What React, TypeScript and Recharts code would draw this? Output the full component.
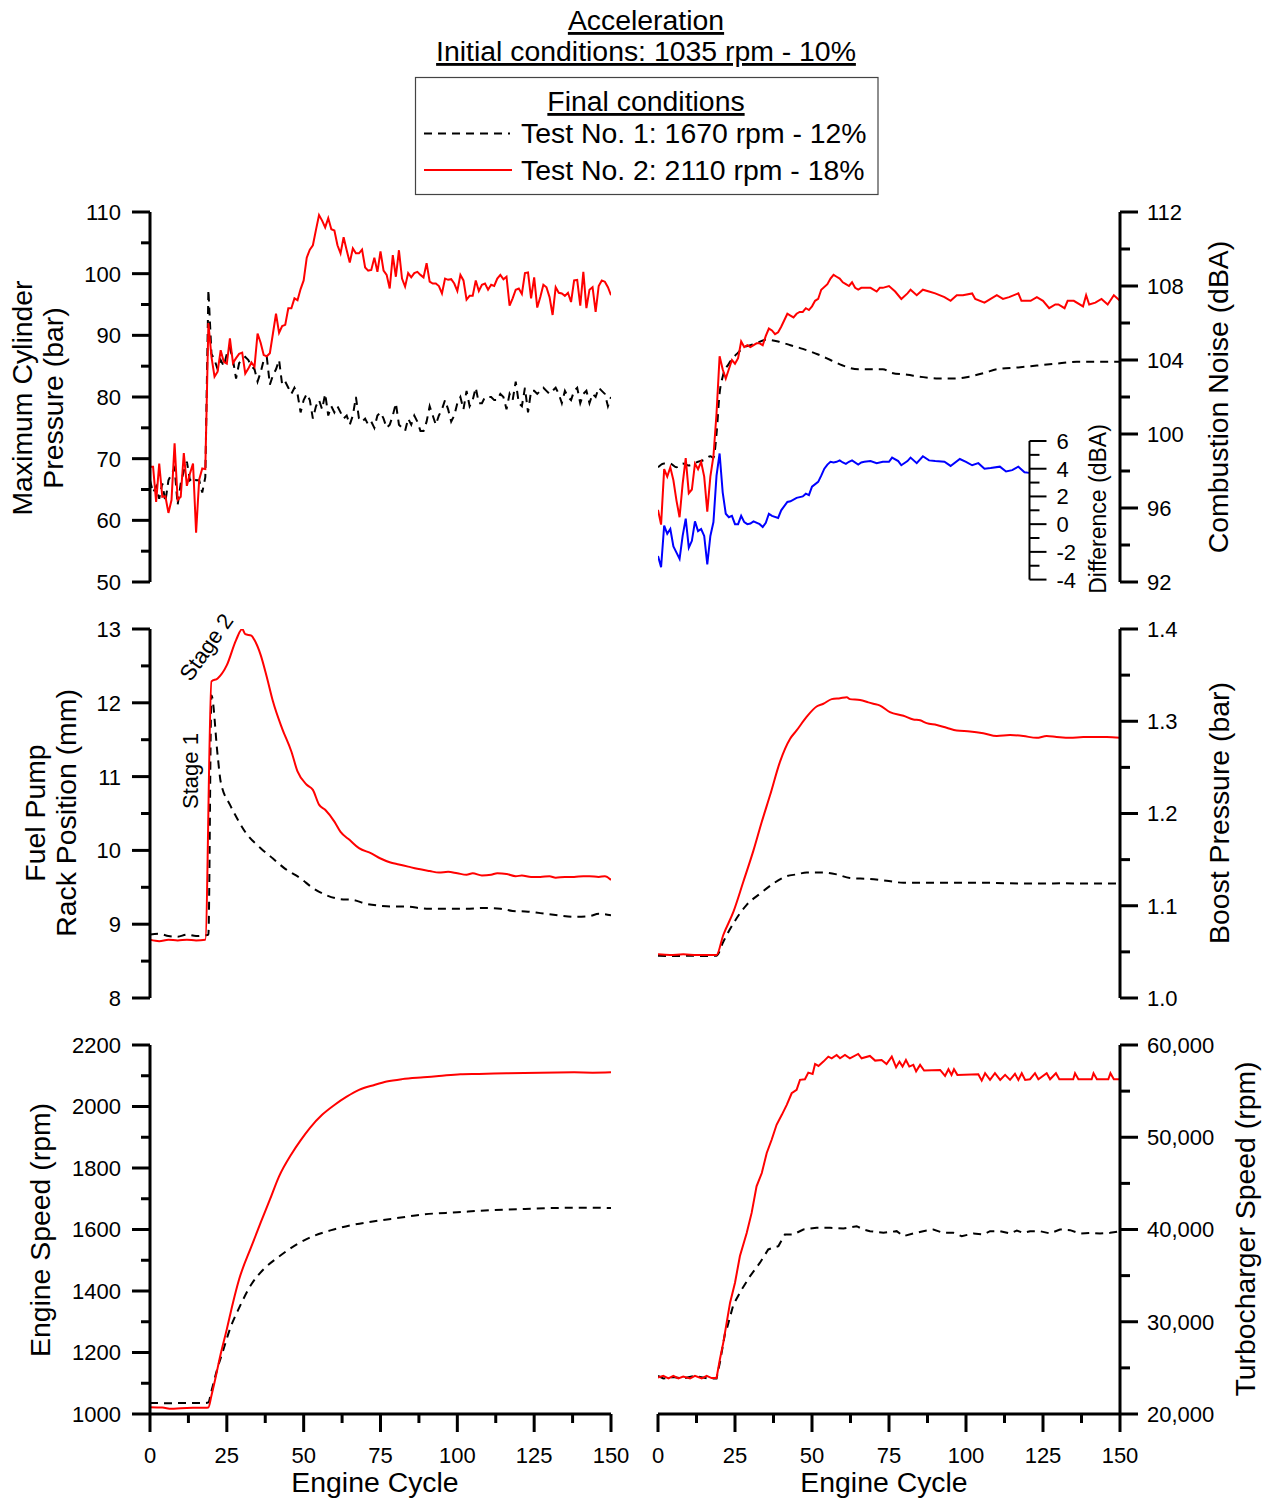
import React from 'react';
import { LineChart, Line, XAxis, YAxis } from 'recharts';

const FONT = '"Liberation Sans", Arial, Helvetica, sans-serif';
const RED = '#ff0000';
const BLUE = '#0000ff';
const DASH = '8 6';

// tick values (labels are drawn only on the major ones)
const CYCLE_TICKS = [0, 12.5, 25, 37.5, 50, 62.5, 75, 87.5, 100, 112.5, 125, 137.5, 150];
const PMAX_TICKS = [50, 55, 60, 65, 70, 75, 80, 85, 90, 95, 100, 105, 110];
const RACK_TICKS = [8, 8.5, 9, 9.5, 10, 10.5, 11, 11.5, 12, 12.5, 13];
const SPEED_TICKS = [1000, 1100, 1200, 1300, 1400, 1500, 1600, 1700, 1800, 1900, 2000, 2100, 2200];
const NOISE_TICKS = [92, 94, 96, 98, 100, 102, 104, 106, 108, 110, 112];
const DIFF_TICKS = [-4, -3, -2, -1, 0, 1, 2, 3, 4, 5, 6];
const BOOST_TICKS = [1.0, 1.05, 1.1, 1.15, 1.2, 1.25, 1.3, 1.35, 1.4];
const TURBO_TICKS = [20000, 25000, 30000, 35000, 40000, 45000, 50000, 55000, 60000];

// maximum cylinder pressure (bar), one value per engine cycle 0..150
const PMAX_T1 = [
  66.5, 64.5, 65.5, 63.5, 66.0, 63.0, 66.5, 67.5, 68.5, 62.5,
  66.0, 68.0, 69.5, 66.5, 67.0, 66.5, 66.5, 64.5, 67.0, 97.4,
  87.0, 86.0, 84.5, 86.0, 85.0, 87.0, 88.0, 86.0, 83.0, 85.5,
  86.0, 86.5, 86.0, 85.0, 84.5, 82.5, 84.0, 86.0, 86.5, 82.0,
  83.5, 84.5, 86.0, 82.0, 82.5, 81.5, 80.5, 81.5, 80.5, 77.5,
  79.5, 80.5, 79.5, 76.5, 78.5, 79.5, 78.0, 80.5, 77.0, 78.5,
  77.5, 78.5, 77.5, 76.5, 77.0, 75.5, 77.0, 80.0, 76.5, 76.0,
  76.5, 75.5, 76.0, 75.0, 77.0, 77.5, 76.5, 75.0, 75.5, 77.0,
  79.0, 75.5, 75.0, 74.5, 76.5, 75.5, 77.0, 76.0, 74.5, 74.5,
  76.0, 78.5, 77.0, 75.5, 77.0, 78.0, 79.5, 78.0, 76.0, 77.0,
  79.0, 80.0, 78.0, 81.0, 78.5, 79.5, 81.5, 79.0, 79.0, 80.0,
  80.0, 80.0, 79.5, 79.5, 80.5, 80.0, 78.0, 80.5, 79.5, 82.5,
  79.0, 78.5, 81.5, 77.5, 81.0, 81.0, 80.5, 81.0, 81.5, 81.0,
  80.5, 81.0, 81.5, 80.5, 79.0, 81.0, 80.0, 79.5, 81.0, 81.5,
  79.0, 80.5, 81.0, 79.0, 80.5, 80.0, 81.5, 81.0, 80.5, 78.5,
  80.0,
];
const PMAX_T2 = [
  68.7, 68.7, 63.0, 69.2, 63.8, 63.9, 61.2, 63.3, 72.5, 63.3,
  63.8, 70.9, 65.6, 67.6, 69.2, 58.0, 66.6, 68.4, 68.3, 92.0,
  86.5, 83.3, 84.1, 87.6, 85.7, 85.4, 89.5, 85.5, 86.3, 87.0,
  87.2, 83.8, 84.6, 85.6, 84.9, 90.3, 88.8, 86.8, 86.6, 87.1,
  90.3, 93.5, 90.4, 91.5, 91.7, 94.4, 94.4, 96.0, 95.7, 97.5,
  98.9, 102.6, 103.9, 104.6, 107.1, 109.5, 108.6, 107.5, 109.0, 107.2,
  107.0, 104.6, 103.3, 105.9, 103.8, 101.8, 104.1, 103.3, 103.3, 103.9,
  101.0, 100.5, 100.6, 102.6, 100.3, 103.6, 100.5, 99.8, 97.6, 103.0,
  99.5, 103.8, 99.2, 97.9, 100.1, 99.4, 100.1, 100.3, 99.8, 99.4,
  101.7, 98.7, 98.4, 98.4, 98.0, 96.8, 99.2, 99.0, 99.1, 98.4,
  97.2, 99.8, 98.9, 95.8, 96.4, 96.4, 98.9, 97.2, 98.2, 98.4,
  97.4, 98.2, 98.0, 99.2, 99.8, 99.1, 99.5, 94.8, 96.0, 97.4,
  97.6, 96.7, 100.1, 100.2, 96.0, 99.4, 94.5, 96.2, 98.2, 97.8,
  96.2, 93.3, 97.8, 96.9, 96.8, 96.4, 96.9, 95.4, 98.9, 99.0,
  94.8, 100.3, 94.4, 97.4, 97.8, 93.8, 98.0, 98.9, 98.7, 97.8,
  96.5,
];

// fuel pump rack position (mm)
const RACK_T1_CYC = [0, 3, 6, 9, 12, 15, 18, 19, 20, 22, 23, 26, 28, 31, 36, 40, 44, 49, 53, 57, 62, 66, 70, 75, 79, 83, 90, 96, 103, 109, 114, 118, 123, 127, 133, 138, 143, 146, 150];
const RACK_T1_MM = [8.86, 8.87, 8.84, 8.83, 8.86, 8.84, 8.85, 8.86, 12.1, 11.29, 10.93, 10.62, 10.46, 10.25, 10.03, 9.89, 9.75, 9.62, 9.49, 9.4, 9.34, 9.33, 9.28, 9.25, 9.24, 9.24, 9.21, 9.21, 9.21, 9.22, 9.21, 9.18, 9.17, 9.15, 9.12, 9.1, 9.11, 9.14, 9.12];
const RACK_T2_CYC = [0, 3, 6, 9, 12, 15, 18, 20, 22, 25, 28, 30, 31, 33, 34, 36, 38, 40, 43, 46, 48, 51, 53, 55, 57, 60, 62, 65, 68, 72, 75, 78, 81, 84, 87, 91, 94, 97, 100, 103, 105, 108, 111, 113, 116, 119, 121, 124, 127, 130, 132, 135, 138, 141, 143, 146, 148, 150];
const RACK_T2_MM = [8.79, 8.77, 8.79, 8.78, 8.79, 8.78, 8.79, 12.29, 12.33, 12.51, 12.85, 13.0, 12.93, 12.91, 12.85, 12.65, 12.35, 12.02, 11.65, 11.34, 11.07, 10.89, 10.82, 10.62, 10.55, 10.39, 10.25, 10.14, 10.03, 9.96, 9.89, 9.84, 9.81, 9.78, 9.75, 9.72, 9.7, 9.71, 9.69, 9.67, 9.69, 9.66, 9.67, 9.69, 9.68, 9.65, 9.66, 9.64, 9.64, 9.65, 9.63, 9.64, 9.64, 9.65, 9.65, 9.64, 9.65, 9.6];

// engine speed (rpm)
const SPEED_T1_CYC = [0, 6, 12, 18, 19, 20, 22, 24, 26, 29, 33, 37, 42, 48, 53, 59, 65, 73, 81, 89, 100, 111, 122, 132, 141, 150];
const SPEED_T1_RPM = [1036, 1035, 1036, 1036, 1038, 1075, 1150, 1213, 1276, 1345, 1422, 1471, 1512, 1553, 1578, 1598, 1613, 1627, 1638, 1649, 1656, 1663, 1667, 1670, 1671, 1670];
const SPEED_T2_CYC = [0, 4, 7, 10, 14, 18, 19, 20, 21, 23, 25, 27, 29, 33, 36, 39, 42, 46, 49, 52, 56, 60, 64, 68, 73, 77, 82, 89, 94, 101, 107, 116, 127, 138, 144, 150];
const SPEED_T2_RPM = [1022, 1021, 1017, 1019, 1020, 1020, 1021, 1060, 1103, 1195, 1276, 1362, 1438, 1545, 1622, 1697, 1773, 1845, 1890, 1930, 1973, 2005, 2032, 2054, 2070, 2081, 2089, 2095, 2099, 2105, 2106, 2108, 2110, 2111, 2110, 2111];

// combustion noise (dBA)
const NOISE_T1_CYC = [0, 2, 4, 6, 8, 10, 13, 15, 17, 18, 19, 20, 21, 23, 26, 28, 30, 32, 35, 39, 43, 47, 52, 56, 60, 65, 69, 73, 76, 81, 85, 91, 97, 101, 106, 110, 117, 123, 129, 136, 142, 150];
const NOISE_T1_DBA = [98.2, 98.4, 98.4, 98.2, 98.4, 98.3, 98.5, 98.6, 98.8, 98.7, 100.0, 102.2, 103.1, 103.8, 104.4, 104.7, 104.8, 104.9, 105.1, 105.0, 104.8, 104.6, 104.3, 104.0, 103.7, 103.5, 103.5, 103.5, 103.3, 103.2, 103.1, 103.0, 103.0, 103.1, 103.3, 103.5, 103.6, 103.7, 103.8, 103.9, 103.9, 103.9];
const NOISE_T2_CYC = [
  0, 1, 2, 3, 4, 5, 6, 7, 8, 9,
  10, 11, 12, 13, 14, 15, 16, 17, 18, 19,
  20, 21, 22, 23, 24, 25, 26, 27, 28, 29,
  30, 32, 33, 34, 35, 36, 37, 38, 39, 40,
  42, 43, 44, 45, 46, 47, 48, 49, 50, 51,
  52, 53, 55, 56, 57, 58, 59, 60, 61, 62,
  63, 64, 65, 66, 68, 69, 71, 72, 73, 75,
  77, 79, 81, 82, 84, 86, 88, 90, 93, 95,
  97, 99, 102, 103, 106, 108, 110, 112, 114, 117,
  118, 121, 123, 125, 127, 129, 130, 132, 133, 135,
  138, 139, 140, 142, 144, 146, 148, 150,
];
const NOISE_T2_DBA = [
  95.9, 95.1, 98.1, 97.7, 98.2, 97.5, 96.4, 95.5, 97.3, 98.7,
  96.8, 97.0, 98.4, 98.1, 98.5, 97.7, 95.8, 97.7, 98.8, 101.1,
  104.2, 103.5, 103.0, 103.5, 104.0, 103.8, 104.1, 105.0, 104.7, 104.8,
  104.7, 104.9, 104.9, 104.8, 105.3, 105.7, 105.6, 105.4, 105.5, 105.8,
  106.5, 106.4, 106.3, 106.5, 106.6, 106.6, 106.8, 106.7, 106.9, 107.2,
  107.3, 107.8, 108.1, 108.4, 108.6, 108.5, 108.4, 108.2, 108.1, 108.0,
  108.2, 107.9, 107.8, 107.9, 107.9, 107.9, 107.7, 107.9, 107.9, 108.0,
  107.7, 107.3, 107.6, 107.8, 107.5, 107.8, 107.7, 107.6, 107.4, 107.2,
  107.5, 107.5, 107.6, 107.3, 107.1, 107.3, 107.5, 107.3, 107.4, 107.6,
  107.2, 107.2, 107.4, 107.2, 106.8, 107.0, 107.0, 106.8, 107.2, 107.2,
  106.9, 107.5, 107.0, 107.1, 107.3, 107.0, 107.5, 107.2,
];

// noise difference test 2 - test 1 (dBA)
const DIFF_CYC = [0, 1, 2, 3, 4, 5, 6, 7, 8, 9, 10, 11, 12, 13, 14, 15, 16, 17, 18, 19, 20, 21, 22, 23, 24, 25, 26, 27, 28, 29, 30, 31, 33, 34, 35, 36, 37, 39, 40, 42, 43, 45, 47, 48, 49, 50, 52, 53, 54, 55, 56, 57, 58, 59, 60, 61, 62, 63, 65, 66, 67, 69, 71, 73, 75, 76, 78, 79, 81, 82, 84, 86, 88, 90, 93, 95, 98, 100, 102, 104, 106, 108, 111, 113, 115, 117, 119, 120.6];
const DIFF_DBA = [-2.3, -3.1, -0.1, -0.7, -0.35, -1.6, -2.05, -2.5, -0.85, 0.4, -1.7, -1.2, 0.2, -0.5, -0.35, -0.85, -2.9, -0.85, 0.15, 3.5, 5.1, 2.3, 0.75, 0.5, 0.6, 0.0, 0.0, 0.6, 0.15, 0.0, 0.05, 0.2, 0.0, -0.2, 0.1, 0.75, 0.6, 0.45, 1.0, 1.6, 1.65, 1.9, 2.0, 2.2, 2.1, 2.7, 3.05, 3.5, 4.0, 4.3, 4.5, 4.45, 4.5, 4.6, 4.45, 4.35, 4.5, 4.6, 4.3, 4.45, 4.5, 4.55, 4.4, 4.5, 4.5, 4.8, 4.55, 4.25, 4.55, 4.8, 4.4, 4.9, 4.6, 4.55, 4.5, 4.2, 4.7, 4.5, 4.25, 4.4, 4.0, 4.05, 4.15, 3.8, 3.9, 4.15, 3.75, 3.7];

// boost pressure (bar)
const BOOST_T1_CYC = [0, 5, 10, 15, 19, 21.2, 24.5, 28.8, 33.1, 37.4, 41.8, 45, 48.3, 53.7, 58, 62.3, 68.8, 74.2, 79.7, 86.1, 92.6, 99.1, 105.6, 112.1, 118.6, 125.1, 131.6, 138.1, 144.6, 150];
const BOOST_T1_BAR = [1.0459, 1.0455, 1.0459, 1.0455, 1.0459, 1.061, 1.081, 1.101, 1.113, 1.124, 1.132, 1.134, 1.136, 1.136, 1.134, 1.13, 1.129, 1.127, 1.125, 1.125, 1.125, 1.125, 1.125, 1.1245, 1.124, 1.124, 1.1245, 1.124, 1.124, 1.124];
const BOOST_T2_CYC = [0, 3.9, 8.2, 12.6, 16.9, 19, 21.2, 24.5, 27.7, 31, 33.7, 36.4, 39.6, 42.9, 45, 48.3, 51.5, 53.7, 56.4, 59.1, 61.3, 62.3, 65.6, 68.3, 69.9, 72.1, 75.3, 79.7, 82.9, 85.1, 87.2, 90.5, 93.7, 97, 101.3, 105.6, 110, 114.3, 118.6, 122.9, 126.2, 129.4, 133.8, 138.1, 142.4, 145.7, 150];
const BOOST_T2_BAR = [1.0473, 1.0466, 1.0473, 1.0466, 1.0466, 1.0466, 1.0683, 1.0936, 1.126, 1.16, 1.191, 1.22, 1.256, 1.281, 1.29, 1.305, 1.316, 1.319, 1.324, 1.325, 1.326, 1.324, 1.323, 1.3205, 1.319, 1.317, 1.31, 1.306, 1.302, 1.301, 1.298, 1.296, 1.293, 1.29, 1.289, 1.287, 1.284, 1.285, 1.284, 1.282, 1.284, 1.283, 1.282, 1.283, 1.283, 1.283, 1.282];

// turbocharger speed (rpm)
const TURBO_T1_CYC = [0, 1.7, 5, 8, 12, 16, 19, 20.1, 21.8, 22.3, 24.5, 27.2, 29.9, 33.1, 35.8, 39.1, 41.2, 43.9, 47.2, 51.5, 55.9, 60.2, 64.5, 66.7, 68.8, 73.2, 77.5, 79.7, 82.9, 86.1, 89.4, 92.6, 95.9, 98.6, 102.4, 105.6, 107.8, 111.1, 114.3, 116.5, 118.6, 120.8, 124, 127.3, 130.5, 133.8, 137, 140.3, 143.5, 146.8, 150];
const TURBO_T1_RPM = [24140, 23850, 24000, 23850, 24140, 23850, 23850, 25580, 28830, 29190, 31890, 33510, 34950, 36400, 37840, 38200, 39460, 39460, 40000, 40180, 40180, 40110, 40360, 40000, 39820, 39640, 39820, 39280, 39570, 39820, 40000, 39640, 39640, 39280, 39570, 39460, 39820, 39820, 39570, 39890, 39640, 39820, 39820, 39570, 40000, 39930, 39570, 39640, 39570, 39640, 39820];
const TURBO_T2_CYC = [
  0, 1.7, 3.4, 5, 6.6, 8.2, 10.4, 12, 14.2, 15.8,
  17.4, 19, 20.1, 21.2, 22.3, 23.4, 25, 26.6, 28.8, 30.4,
  32, 33.7, 35.3, 36.9, 38.5, 40.2, 41.8, 43.4, 45, 46.1,
  47.7, 48.8, 50.2, 51, 52.1, 53.7, 55.3, 56.4, 58, 59.1,
  60.7, 62.3, 65, 66.1, 68.8, 70.5, 72.6, 74.2, 75.9, 77.3,
  78.4, 79.4, 80.5, 81.6, 82.9, 83.8, 85.1, 86.4, 91.6, 93.2,
  94.3, 95.3, 96.1, 97.2, 104, 105.1, 106.2, 107.8, 109.4, 111.1,
  112.7, 114.3, 115.9, 117, 118.1, 119.2, 120.8, 122.4, 123.5, 126.2,
  127.3, 129.2, 130.3, 134.8, 135.4, 136.5, 140.8, 141.4, 142.5, 146.2,
  146.9, 148, 150,
];
const TURBO_T2_RPM = [
  23960, 24140, 23850, 24140, 23850, 24070, 23850, 24140, 23850, 24140,
  23890, 23890, 25940, 27740, 29900, 32070, 34230, 37120, 39630, 41800,
  44680, 46120, 48290, 49730, 51350, 52430, 53510, 54770, 55130, 56220,
  56290, 57010, 56870, 57940, 57730, 58200, 58740, 58560, 58920, 58560,
  58920, 58560, 59030, 58560, 58810, 58310, 58380, 57940, 58740, 57590,
  58200, 57660, 58380, 57660, 57840, 57140, 57840, 57230, 57300, 56650,
  57370, 56760, 57370, 56760, 56830, 56140, 56940, 56220, 56940, 56220,
  56760, 56220, 56870, 56220, 56940, 56220, 56290, 56940, 56290, 56940,
  56290, 56940, 56290, 56290, 56940, 56290, 56290, 56940, 56290, 56290,
  56940, 56290, 56290,
];

type Pt = { x: number; y: number };
const perCycle = (vals: number[]): Pt[] => vals.map((y, x) => ({ x, y }));
const zip = (xs: number[], ys: number[]): Pt[] => xs.map((x, i) => ({ x, y: ys[i] }));

// plot rectangles (page pixels)
const LX = 150, LW = 461, RX = 658, RW = 462;
const R1 = 212, H1 = 370, R2 = 629, H2 = 369, R3 = 1045, H3 = 369;
const INSET_AXIS_X = 1029.5, INSET_TOP = 440.7, INSET_H = 138.6;
const INSET_XMAX = ((INSET_AXIS_X - RX) / RW) * 150;
const PAD = 12;
const FAR = 30;
const BIG = 28.4;

type AxisStyle = {
  side: 'left' | 'right' | 'bottom';
  major: (v: number) => boolean;
  fmt: (v: number) => string;
  long: number;
  short: number;
  gap: number;
  width: number;
};

const near = (v: number, step: number) => Math.abs(v / step - Math.round(v / step)) < 1e-6;

function makeTick(s: AxisStyle) {
  return (p: any) => {
    const { x, y, payload } = p;
    const v = payload.value as number;
    const big = s.major(v);
    const len = big ? s.long : s.short;
    if (s.side === 'bottom') {
      return (
        <g>
          <line x1={x} x2={x} y1={y} y2={y + len} stroke="#000" strokeWidth={s.width} />
          {big && (
            <text x={x} y={y + s.gap} textAnchor="middle" fontSize={22} fontFamily={FONT} fill="#000">
              {s.fmt(v)}
            </text>
          )}
        </g>
      );
    }
    const dir = s.side === 'left' ? -1 : 1;
    return (
      <g>
        <line x1={x} x2={x + dir * len} y1={y} y2={y} stroke="#000" strokeWidth={s.width} />
        {big && (
          <text x={x + dir * s.gap} y={y} dy="0.36em" textAnchor={s.side === 'left' ? 'end' : 'start'} fontSize={22} fontFamily={FONT} fill="#000">
            {s.fmt(v)}
          </text>
        )}
      </g>
    );
  };
}

const X_STYLE: AxisStyle = { side: 'bottom', major: (v) => near(v, 25), fmt: String, long: 18, short: 9, gap: 49, width: 3 };
const leftStyle = (step: number): AxisStyle => ({ side: 'left', major: (v) => near(v, step), fmt: String, long: 18, short: 9, gap: 29, width: 3 });
const rightStyle = (step: number, fmt: (v: number) => string): AxisStyle => ({ side: 'right', major: (v) => near(v, step), fmt, long: 18, short: 10, gap: 27, width: 3 });
const INSET_STYLE: AxisStyle = { side: 'right', major: (v) => near(v, 2), fmt: String, long: 17, short: 10, gap: 27, width: 2 };

type Series = { data: Pt[]; color: string; dashed?: boolean; smooth?: boolean };

type PanelProps = {
  x: number; y: number; w: number; h: number;
  side: 'left' | 'right';
  showX?: boolean;
  xMax?: number;
  domain: [number, number];
  ticks: number[];
  yStyle: AxisStyle;
  series: Series[];
};

function Panel(p: PanelProps) {
  const axW = p.side === 'left' ? 100 : 110;
  const xH = p.showX ? 60 : 0;
  const width = p.w + axW + FAR;
  const height = p.h + PAD + (p.showX ? xH : PAD);
  const left = p.side === 'left' ? p.x - axW : p.x - FAR;
  return (
    <div style={{ position: 'absolute', left, top: p.y - PAD, width, height }}>
      <LineChart
        width={width}
        height={height}
        margin={{ top: PAD, bottom: p.showX ? 0 : PAD, left: p.side === 'left' ? 0 : FAR, right: p.side === 'left' ? FAR : 0 }}
      >
        <XAxis
          type="number"
          dataKey="x"
          domain={[0, p.xMax ?? 150]}
          allowDataOverflow
          hide={!p.showX}
          height={p.showX ? xH : 0}
          ticks={CYCLE_TICKS}
          interval={0}
          tickSize={0}
          tickMargin={0}
          tickLine={false}
          axisLine={{ stroke: '#000', strokeWidth: 3 }}
          tick={makeTick(X_STYLE)}
        />
        <YAxis
          type="number"
          orientation={p.side}
          width={axW}
          domain={p.domain}
          allowDataOverflow
          ticks={p.ticks}
          interval={0}
          tickSize={0}
          tickMargin={0}
          tickLine={false}
          axisLine={{ stroke: '#000', strokeWidth: p.yStyle.width }}
          tick={makeTick(p.yStyle)}
        />
        {p.series.map((s, i) => (
          <Line
            key={i}
            data={s.data}
            dataKey="y"
            type={s.smooth ? 'monotone' : 'linear'}
            stroke={s.color}
            strokeWidth={2}
            strokeDasharray={s.dashed ? DASH : undefined}
            dot={false}
            activeDot={false}
            isAnimationActive={false}
          />
        ))}
      </LineChart>
    </div>
  );
}

function VText({ x, y, size = BIG, children }: { x: number; y: number; size?: number; children: React.ReactNode }) {
  return (
    <text transform={`translate(${x},${y}) rotate(-90)`} textAnchor="middle" fontSize={size} fontFamily={FONT} fill="#000">
      {children}
    </text>
  );
}

export default function App() {
  const u = { textDecoration: 'underline' } as React.CSSProperties;
  return (
    <div style={{ position: 'absolute', left: 0, top: 0, width: 1276, height: 1502, background: '#fff', overflow: 'hidden' }}>
      <Panel x={LX} y={R1} w={LW} h={H1} side="left" domain={[50, 110]} ticks={PMAX_TICKS} yStyle={leftStyle(10)}
        series={[{ data: perCycle(PMAX_T1), color: '#000', dashed: true }, { data: perCycle(PMAX_T2), color: RED }]} />
      <Panel x={LX} y={R2} w={LW} h={H2} side="left" domain={[8, 13]} ticks={RACK_TICKS} yStyle={leftStyle(1)}
        series={[{ data: zip(RACK_T1_CYC, RACK_T1_MM), color: '#000', dashed: true, smooth: true }, { data: zip(RACK_T2_CYC, RACK_T2_MM), color: RED, smooth: true }]} />
      <Panel x={LX} y={R3} w={LW} h={H3} side="left" showX domain={[1000, 2200]} ticks={SPEED_TICKS} yStyle={leftStyle(200)}
        series={[{ data: zip(SPEED_T1_CYC, SPEED_T1_RPM), color: '#000', dashed: true, smooth: true }, { data: zip(SPEED_T2_CYC, SPEED_T2_RPM), color: RED, smooth: true }]} />

      <Panel x={RX} y={R1} w={RW} h={H1} side="right" domain={[92, 112]} ticks={NOISE_TICKS} yStyle={rightStyle(4, String)}
        series={[{ data: zip(NOISE_T1_CYC, NOISE_T1_DBA), color: '#000', dashed: true, smooth: true }, { data: zip(NOISE_T2_CYC, NOISE_T2_DBA), color: RED }]} />
      <Panel x={RX} y={INSET_TOP} w={INSET_AXIS_X - RX} h={INSET_H} side="right" xMax={INSET_XMAX} domain={[-4, 6]} ticks={DIFF_TICKS} yStyle={INSET_STYLE}
        series={[{ data: zip(DIFF_CYC, DIFF_DBA), color: BLUE }]} />
      <Panel x={RX} y={R2} w={RW} h={H2} side="right" domain={[1.0, 1.4]} ticks={BOOST_TICKS} yStyle={rightStyle(0.1, (v) => v.toFixed(1))}
        series={[{ data: zip(BOOST_T1_CYC, BOOST_T1_BAR), color: '#000', dashed: true, smooth: true }, { data: zip(BOOST_T2_CYC, BOOST_T2_BAR), color: RED, smooth: true }]} />
      <Panel x={RX} y={R3} w={RW} h={H3} side="right" showX domain={[20000, 60000]} ticks={TURBO_TICKS} yStyle={rightStyle(10000, (v) => v.toLocaleString('en-US'))}
        series={[{ data: zip(TURBO_T1_CYC, TURBO_T1_RPM), color: '#000', dashed: true }, { data: zip(TURBO_T2_CYC, TURBO_T2_RPM), color: RED }]} />

      <svg width={1276} height={1502} style={{ position: 'absolute', left: 0, top: 0, pointerEvents: 'none' }}>
        <g fontFamily={FONT} fontSize={BIG} fill="#000">
          <text x={646} y={30} textAnchor="middle" style={u}>Acceleration</text>
          <text x={646} y={61} textAnchor="middle" style={u}>Initial conditions: 1035 rpm - 10%</text>

          <rect x={415.5} y={77.5} width={462.5} height={117} fill="#fff" stroke="#444" strokeWidth={1.2} />
          <text x={646} y={111} textAnchor="middle" style={u}>Final conditions</text>
          <line x1={424} x2={510} y1={133.5} y2={133.5} stroke="#000" strokeWidth={2} strokeDasharray={DASH} />
          <text x={521} y={143}>Test No. 1: 1670 rpm - 12%</text>
          <line x1={424} x2={512} y1={170} y2={170} stroke={RED} strokeWidth={2} />
          <text x={521} y={180}>Test No. 2: 2110 rpm - 18%</text>

          <text x={375} y={1492} textAnchor="middle">Engine Cycle</text>
          <text x={884} y={1492} textAnchor="middle">Engine Cycle</text>
        </g>
        <VText x={32} y={398}>Maximum Cylinder</VText>
        <VText x={63} y={398}>Pressure (bar)</VText>
        <VText x={45} y={813}>Fuel Pump</VText>
        <VText x={76} y={813}>Rack Position (mm)</VText>
        <VText x={50} y={1230}>Engine Speed (rpm)</VText>
        <VText x={1228} y={397}>Combustion Noise (dBA)</VText>
        <VText x={1229} y={813}>Boost Pressure (bar)</VText>
        <VText x={1255} y={1229}>Turbocharger Speed (rpm)</VText>
        <VText x={1106} y={509} size={23}>Difference (dBA)</VText>
        <text transform="translate(190,771) rotate(-90)" dy="0.36em" textAnchor="middle" fontSize={22} fontFamily={FONT}>Stage 1</text>
        <text transform="translate(206,647) rotate(-55)" dy="0.36em" textAnchor="middle" fontSize={22} fontFamily={FONT}>Stage 2</text>
      </svg>
    </div>
  );
}
